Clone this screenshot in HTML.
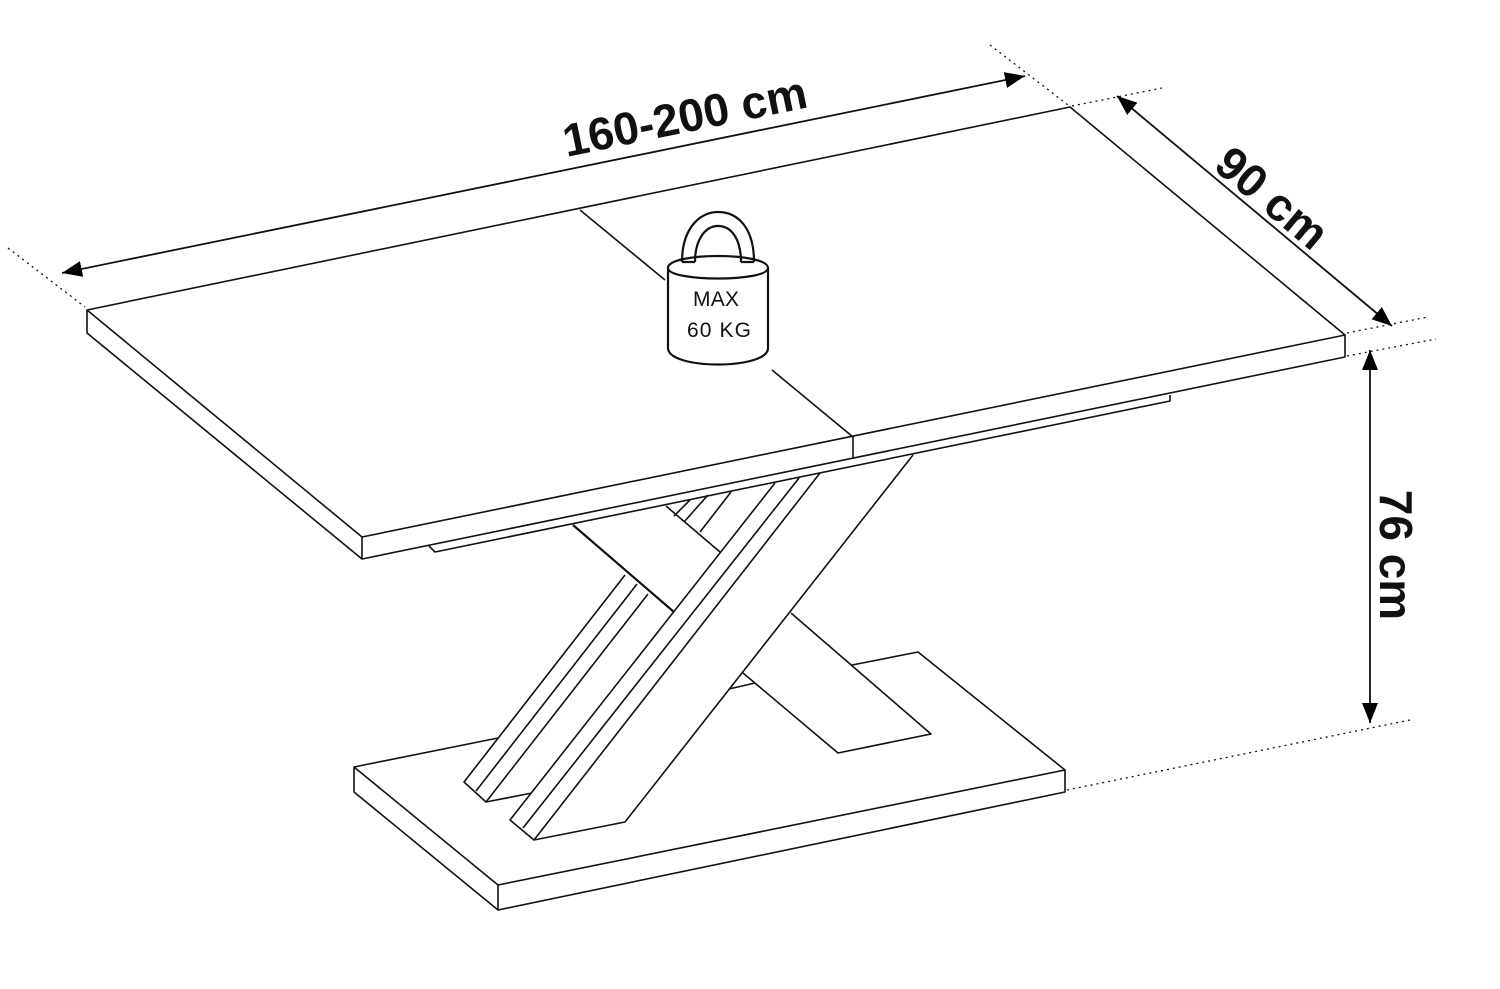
<!DOCTYPE html>
<html><head><meta charset="utf-8"><style>
html,body{margin:0;padding:0;background:#fff;width:1500px;height:989px;overflow:hidden}
svg{display:block}
text{font-family:"Liberation Sans",Arial,sans-serif}
</style></head><body>
<svg width="1500" height="989" viewBox="0 0 1500 989" xmlns="http://www.w3.org/2000/svg">
<defs>
<marker id="ar" viewBox="0 0 10 10" refX="10" refY="5" markerWidth="20" markerHeight="16" markerUnits="userSpaceOnUse" orient="auto-start-reverse" preserveAspectRatio="none">
<path d="M0,0 L10,5 L0,10 z" fill="#000"/></marker>
</defs>
<g fill="none" stroke="#111" stroke-width="1.6" stroke-linejoin="round">
<!-- base -->
<path d="M354,767 L498,738"/>
<path d="M729,689 L755,683"/>
<path d="M852,665 L918,652 L1065,770"/>
<path d="M354,767 L498,885 L1065,770 L1065,792 L498,910 L354,792 Z"/>
<path d="M498,885 L498,910"/>
<!-- rear leg -->
<path d="M573,525 L674,612" stroke-width="2.2"/>
<path d="M743,673 L838,753 L931,734 L791,613"/>
<path d="M666,506 L720,552"/>
<!-- left strips -->
<path d="M625,575 L464,782 L486,802 L532,793"/>
<path d="M637,584 L476,791"/>
<path d="M648,594 L486,802"/>
<path d="M708,495 L684,522"/>
<path d="M731,492 L700,532"/>
<path d="M690,500 L674,516"/>
<!-- front leg -->
<path d="M775,483 L510,820 L534,840 L625,822 L913,455"/>
<path d="M799,478 L523,828"/>
<path d="M820,473 L534,840"/>
<!-- rail -->
<path d="M429,546 L435,552 L1170,401 L1170,395"/>
<!-- top -->
<path d="M87,310 L1070,107 L1345,335 L362,537 Z"/>
<path d="M87,310 L87,333 L362,559 L1345,357 L1345,335"/>
<path d="M362,537 L362,559"/>
<path d="M580,210 L665,280"/>
<path d="M772,370 L853,437 L853,459"/>
</g>
<!-- weight -->
<g fill="none" stroke="#111" stroke-width="2.2">
<path d="M682,262 C682,228 700,212 718,212 C738,212 754,228 754,262"/>
<path d="M695,262 C695,240 705,226 718,226 C732,226 741,240 741,262"/>
<path d="M682,262 L695,262 M741,262 L754,262"/>
<path d="M668,268 C668,252 768,252 768,268"/>
<path d="M668,268 C668,282 768,282 768,268"/>
<path d="M668,268 L668,348 C668,370 768,370 768,348 L768,268"/>
</g>
<text x="716" y="306" font-size="21" text-anchor="middle" fill="#111" textLength="46">MAX</text>
<text x="719" y="337" font-size="21" text-anchor="middle" fill="#111" textLength="64">60 KG</text>
<!-- dimension lines -->
<g stroke="#111" stroke-width="1.8" fill="none">
<line x1="62" y1="273" x2="1025" y2="76" marker-start="url(#ar)" marker-end="url(#ar)"/>
<line x1="1117" y1="96" x2="1392" y2="326" marker-start="url(#ar)" marker-end="url(#ar)"/>
<line x1="1370" y1="350" x2="1370" y2="723" marker-start="url(#ar)" marker-end="url(#ar)"/>
</g>
<g stroke="#111" stroke-width="1.3" stroke-dasharray="2 4" fill="none">
<line x1="8" y1="248" x2="85" y2="307"/>
<line x1="990" y1="45" x2="1068" y2="105"/>
<line x1="1072" y1="106" x2="1162" y2="88"/>
<line x1="1347" y1="333" x2="1428" y2="317"/>
<line x1="1347" y1="356" x2="1436" y2="339"/>
<line x1="1067" y1="790" x2="1410" y2="720"/>
</g>
<text transform="translate(688,132) rotate(-11.6)" font-size="46" font-weight="bold" text-anchor="middle" fill="#111">160-200 cm</text>
<text transform="translate(1262,210) rotate(40)" font-size="46" font-weight="bold" text-anchor="middle" fill="#111">90 cm</text>
<text transform="translate(1380,555) rotate(90)" font-size="46" font-weight="bold" text-anchor="middle" fill="#111">76 cm</text>
</svg>
</body></html>
